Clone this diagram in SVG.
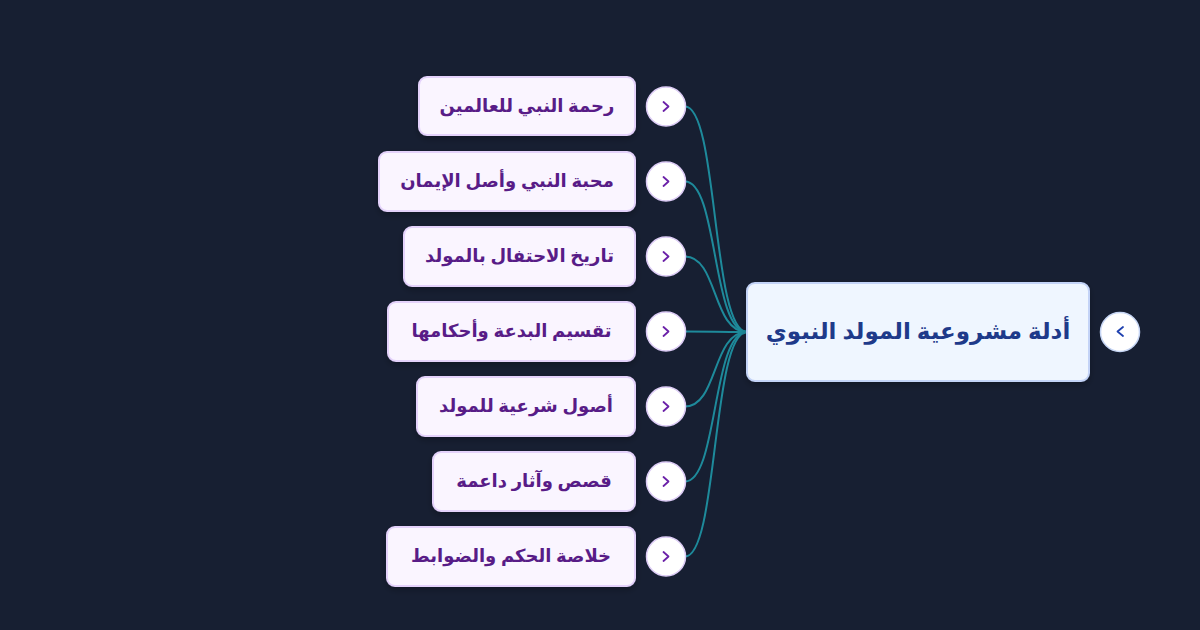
<svg xmlns="http://www.w3.org/2000/svg" width="1200" height="630" viewBox="0 0 1200 630">
<style>
.bg{fill:#171f32}
.child rect{fill:#faf5ff;stroke:#e4d2fb;stroke-width:2}
.child text{fill:#581c87;font-family:"Noto Sans","DejaVu Sans",sans-serif;font-size:18px;font-weight:bold;text-anchor:middle}
.toggle circle{fill:#ffffff;stroke:#dccbf5;stroke-width:1.5}
.toggle polyline{fill:none;stroke:#6b21a8;stroke-width:1.8;stroke-linecap:round;stroke-linejoin:round}
.root rect{fill:#eff6ff;stroke:#c3d3f7;stroke-width:2}
.root text{fill:#1e3a8a;font-family:"Noto Sans","DejaVu Sans",sans-serif;font-size:23px;font-weight:bold;text-anchor:middle}
.rtoggle circle{fill:#ffffff;stroke:#c7d6f5;stroke-width:1.5}
.rtoggle polyline{fill:none;stroke:#1e40af;stroke-width:1.8;stroke-linecap:round;stroke-linejoin:round}
.edge{fill:none;stroke:#1e8a9b;stroke-width:2}
</style>
<defs>
<marker id="arr" viewBox="0 0 10 10" refX="9" refY="5" markerWidth="5" markerHeight="5" orient="auto" markerUnits="userSpaceOnUse">
<path d="M0,0 L10,5 L0,10 z" fill="#1e8a9b"/>
</marker>
<filter id="sh" x="-10%" y="-20%" width="120%" height="150%">
<feDropShadow dx="0" dy="3" stdDeviation="3" flood-color="#000000" flood-opacity="0.25"/>
</filter>
</defs>
<rect class="bg" x="0" y="0" width="1200" height="630"/>
<g id="connectors">
<path class="edge" marker-end="url(#arr)" d="M685,106.5 C718,106.5 712,332 747,332"/>
<path class="edge" marker-end="url(#arr)" d="M685,181.5 C718,181.5 712,332 747,332"/>
<path class="edge" marker-end="url(#arr)" d="M685,256.5 C718,256.5 712,332 747,332"/>
<path class="edge" marker-end="url(#arr)" d="M685,331.5 C718,331.5 712,332 747,332"/>
<path class="edge" marker-end="url(#arr)" d="M685,406.5 C718,406.5 712,332 747,332"/>
<path class="edge" marker-end="url(#arr)" d="M685,481.5 C718,481.5 712,332 747,332"/>
<path class="edge" marker-end="url(#arr)" d="M685,556.5 C718,556.5 712,332 747,332"/>
</g>
<g id="root" class="root">
<rect x="747" y="283" width="342" height="98" rx="8" filter="url(#sh)"/>
<text x="918" y="339" direction="rtl">أدلة مشروعية المولد النبوي</text>
</g>
<g id="root-toggle" class="rtoggle">
<circle cx="1120" cy="332" r="19.5"/>
<polyline points="1123,327 1117.5,331.5 1123,336"/>
</g>
<g id="n1" class="child">
<rect x="419" y="77" width="216" height="58" rx="8" filter="url(#sh)"/>
<text x="527" y="112" direction="rtl">رحمة النبي للعالمين</text>
</g>
<g id="n1-toggle" class="toggle"><circle cx="666" cy="106.5" r="19.5"/><polyline points="663.5,102 668.5,106.5 663.5,111"/></g>
<g id="n2" class="child">
<rect x="379" y="152" width="256" height="59" rx="8" filter="url(#sh)"/>
<text x="507" y="187" direction="rtl">محبة النبي وأصل الإيمان</text>
</g>
<g id="n2-toggle" class="toggle"><circle cx="666" cy="181.5" r="19.5"/><polyline points="663.5,177 668.5,181.5 663.5,186"/></g>
<g id="n3" class="child">
<rect x="404" y="227" width="231" height="59" rx="8" filter="url(#sh)"/>
<text x="519.5" y="262" direction="rtl">تاريخ الاحتفال بالمولد</text>
</g>
<g id="n3-toggle" class="toggle"><circle cx="666" cy="256.5" r="19.5"/><polyline points="663.5,252 668.5,256.5 663.5,261"/></g>
<g id="n4" class="child">
<rect x="388" y="302" width="247" height="59" rx="8" filter="url(#sh)"/>
<text x="511.5" y="337" direction="rtl">تقسيم البدعة وأحكامها</text>
</g>
<g id="n4-toggle" class="toggle"><circle cx="666" cy="331.5" r="19.5"/><polyline points="663.5,327 668.5,331.5 663.5,336"/></g>
<g id="n5" class="child">
<rect x="417" y="377" width="218" height="59" rx="8" filter="url(#sh)"/>
<text x="526" y="412" direction="rtl">أصول شرعية للمولد</text>
</g>
<g id="n5-toggle" class="toggle"><circle cx="666" cy="406.5" r="19.5"/><polyline points="663.5,402 668.5,406.5 663.5,411"/></g>
<g id="n6" class="child">
<rect x="433" y="452" width="202" height="59" rx="8" filter="url(#sh)"/>
<text x="534" y="487" direction="rtl">قصص وآثار داعمة</text>
</g>
<g id="n6-toggle" class="toggle"><circle cx="666" cy="481.5" r="19.5"/><polyline points="663.5,477 668.5,481.5 663.5,486"/></g>
<g id="n7" class="child">
<rect x="387" y="527" width="248" height="59" rx="8" filter="url(#sh)"/>
<text x="511" y="562" direction="rtl">خلاصة الحكم والضوابط</text>
</g>
<g id="n7-toggle" class="toggle"><circle cx="666" cy="556.5" r="19.5"/><polyline points="663.5,552 668.5,556.5 663.5,561"/></g>
</svg>
